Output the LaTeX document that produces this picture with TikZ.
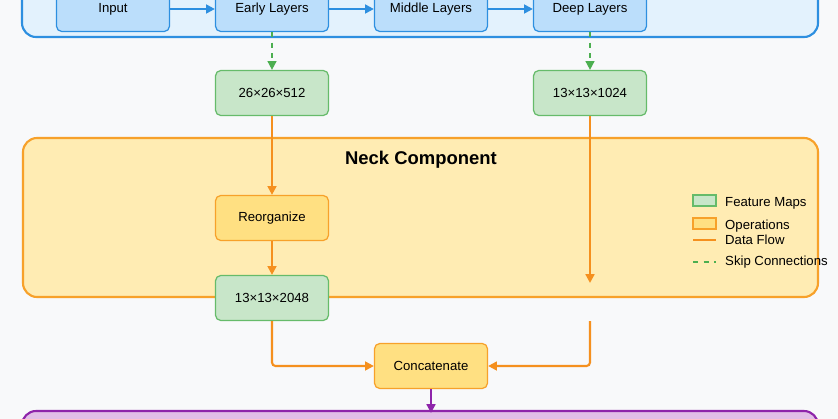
\documentclass[tikz,border=0pt]{standalone}
\usepackage{fontspec}
\setmainfont{Liberation Sans}
\usetikzlibrary{positioning,arrows.meta}
\definecolor{bluefill}{HTML}{E3F2FD}
\definecolor{blueline}{HTML}{2D8FE0}
\definecolor{bluenode}{HTML}{BBDEFB}
\definecolor{greenfill}{HTML}{C8E6C9}
\definecolor{greenline}{HTML}{66BB6A}
\definecolor{greendash}{HTML}{4CAF50}
\definecolor{neckfill}{HTML}{FFECB3}
\definecolor{opfill}{HTML}{FFE082}
\definecolor{orangeline}{HTML}{F7A12A}
\definecolor{flow}{HTML}{F5901E}
\definecolor{purpfill}{HTML}{E1BEE7}
\definecolor{purpline}{HTML}{8E24AA}
\definecolor{bg}{HTML}{F8F9FA}

\begin{document}
\begin{tikzpicture}[x=0.02cm,y=-0.02cm,>={Triangle[length=5pt,width=5pt]},
  every node/.style={font=\fontsize{7.5}{9}\selectfont},
  block/.style={draw, rounded corners=3pt, minimum width=2.26cm, minimum height=0.9cm, line width=0.7pt},
  backbone/.style={block, fill=bluenode, draw=blueline},
  featmap/.style={block, fill=greenfill, draw=greenline},
  oper/.style={block, fill=opfill, draw=orangeline},
  flowline/.style={->, flow, line width=1.2pt},
  skipline/.style={->, greendash, line width=1pt, dashed}]
\fill[bg] (0,0) rectangle (838,419);
\useasboundingbox (0,0) rectangle (838,419);

%panels
\draw[fill=bluefill, draw=blueline, line width=1.2pt, rounded corners=8pt] (22,-20) rectangle (818,37);
\draw[fill=neckfill, draw=orangeline, line width=1.2pt, rounded corners=8pt] (23,138) rectangle (818,297);
\draw[fill=purpfill, draw=purpline, line width=1.2pt, rounded corners=8pt] (22,411) rectangle (818,440);
\node[font=\fontsize{10.5}{12}\selectfont\bfseries] (neck) at (421,160) {Neck Component};

%backbone
\node[backbone] (input)  at (113,9) {Input};
\node[backbone] (early)  at (272,9) {Early Layers};
\node[backbone] (middle) at (431,9) {Middle Layers};
\node[backbone] (deep)   at (590,9) {Deep Layers};
\draw[->, blueline, line width=1.2pt] (input)--(early);
\draw[->, blueline, line width=1.2pt] (early)--(middle);
\draw[->, blueline, line width=1.2pt] (middle)--(deep);

%feature maps and operations
\node[featmap] (fmid)  at (272,93)  {26×26×512};
\node[featmap] (fdeep) at (590,93)  {13×13×1024};
\node[oper]    (reorg) at (272,218) {Reorganize};
\node[featmap] (fre)   at (272,298) {13×13×2048};
\node[oper]    (concat) at (431,366) {Concatenate};
\coordinate (deepend) at (590,283);
\coordinate (deepcont) at (590,321);
\coordinate (outin) at (431,413);

%connections
\draw[skipline] (early)--(fmid);
\draw[skipline] (deep)--(fdeep);
\draw[flowline] (fmid)--(reorg);
\draw[flowline] (reorg)--(fre);
\draw[flowline] (fdeep)--(deepend);
\draw[flowline, rounded corners=2pt] (fre.south) |- (concat.west);
\draw[flowline, rounded corners=2pt] (deepcont) |- (concat.east);
\draw[->, purpline, line width=1.2pt] (concat)--(outin);

%legend
\draw[fill=greenfill, draw=greenline, line width=0.7pt] (693,195) rectangle (716,206);
\node[anchor=west] (lfeat) at (719,203) {Feature Maps};
\draw[fill=opfill, draw=orangeline, line width=0.7pt] (693,218) rectangle (716,229);
\node[anchor=west] (loper) at (719,226) {Operations};
\coordinate (lflowa) at (693,240); \coordinate (lflowb) at (716,240);
\draw[flow, line width=1.2pt] (lflowa)--(lflowb);
\node[anchor=west] (lflow) at (719,240) {Data Flow};
\coordinate (lskipa) at (693,262); \coordinate (lskipb) at (716,262);
\draw[greendash, line width=1pt, dashed] (lskipa)--(lskipb);
\node[anchor=west] (lskip) at (719,262) {Skip Connections};

\end{tikzpicture}
\end{document}
